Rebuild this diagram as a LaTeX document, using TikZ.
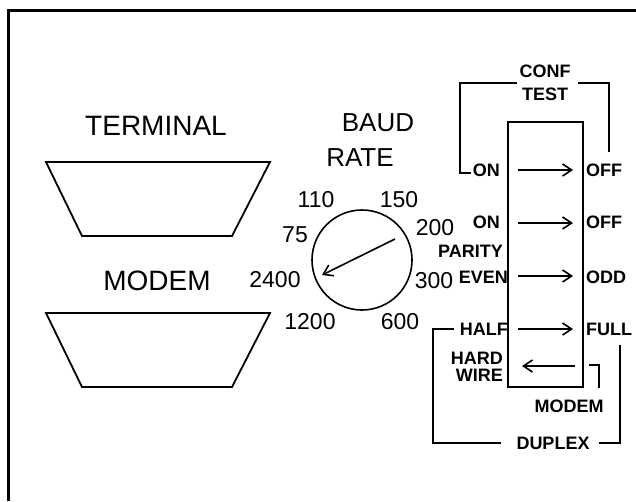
\documentclass[tikz,border=0pt]{standalone}
\usepackage{fontspec}
\setmainfont{Liberation Sans}
\usetikzlibrary{arrows.meta, positioning}
\tikzset{
  frame/.style={line width=3pt},
  sk/.style={line width=1.8pt, line join=miter},
  bracket/.style={line width=1.6pt},
  swarrow/.style={-{Straight Barb[length=9pt, width=12pt, line width=1.6pt]}, line width=1.6pt},
  big/.style={font=\fontsize{28}{30}\selectfont, inner sep=0pt},
  num/.style={font=\fontsize{23}{25}\selectfont, inner sep=0pt},
  tag/.style={font=\bfseries\fontsize{18}{19}\selectfont, inner sep=0pt},
}

\begin{document}
\begin{tikzpicture}[x=1pt, y=-1pt]
\useasboundingbox (0,0) rectangle (636,501);

% panel edge
\draw[frame] (8,501) -- (8,10) -- (636,10);

% terminal and modem slots
\foreach \Y in {0,151}{
  \draw[sk] (46,162+\Y) -- (270,162+\Y) -- (232,236+\Y) -- (82,236+\Y) -- cycle;
}
\node[big] (terminal) at (156,126) {TERMINAL};
\node[big] (modem) at (157,281) {MODEM};

% baud rate dial
\node[big, font=\fontsize{26}{28}\selectfont] (baud) at (378,123) {BAUD};
\node[big, font=\fontsize{26}{28}\selectfont] (rate) at (360,158) {RATE};
\node[draw, circle, line width=1.6pt, minimum size=100pt, inner sep=0pt] (dial) at (362,260) {};
\coordinate (ptail) at (395,239);
\coordinate (phead) at (322,275);
\draw[swarrow] (ptail) -- (phead);

\foreach \nm/\X/\Y in {110/316/200, 150/399/200, 75/295/235, 200/435/228,
                       2400/275/280, 300/434/281, 1200/310/322, 600/400/322}{
  \node[num] (b\nm) at (\X,\Y) {\nm};
}

% switch block
\node[draw, line width=1.8pt, minimum width=75pt, minimum height=265pt] (sw) at (545.5,254.5) {};
\foreach \i/\Y in {1/170, 2/223, 3/276, 4/329}{
  \coordinate (sa\i) at (518,\Y);
  \coordinate (sb\i) at (573,\Y);
  \draw[swarrow] (sa\i) -- (sb\i);
}
\coordinate (sa5) at (575,366);
\coordinate (sb5) at (522,366);
\draw[swarrow] (sa5) -- (sb5);

% left labels
\node[tag, anchor=east] (on1) at (500,170) {ON};
\node[tag, anchor=east] (on2) at (500,222) {ON};
\node[tag, anchor=east] (parity) at (503,251) {PARITY};
\node[tag, anchor=east] (even) at (508,277) {EVEN};
\node[tag, anchor=east] (half) at (508,329) {HALF};
\node[tag, anchor=east] (hard) at (503,358) {HARD};
\node[tag, anchor=east] (wire) at (503,375) {WIRE};

% right labels
\node[tag, anchor=west] (off1) at (586,170) {OFF};
\node[tag, anchor=west] (off2) at (586,222) {OFF};
\node[tag, anchor=west] (odd) at (586,277) {ODD};
\node[tag, anchor=west] (full) at (586,329) {FULL};

% conf test bracket
\node[tag] (conf) at (545,71) {CONF};
\node[tag] (test) at (545,94) {TEST};
\coordinate (ctl) at (517,83);
\coordinate (ctc) at (460,83);
\coordinate (ctr) at (578,83);
\coordinate (cte) at (609,152);
\draw[bracket] (ctl) -- (ctc) |- ([xshift=-2pt,yshift=-3pt]on1.west);
\draw[bracket] (ctr) -| (cte);

% modem mark
\node[tag] (smodem) at (569,406) {MODEM};
\coordinate (mka) at (589,365);
\coordinate (mkb) at (599,388);
\draw[bracket] (mka) -| (mkb);

% duplex bracket
\node[tag] (duplex) at (553,443) {DUPLEX};
\coordinate (dpl) at (433,329);
\coordinate (dpr) at (620,345);
\draw[bracket] ([xshift=-6pt]half.west) -- (dpl) |- ([xshift=-15pt]duplex.west);
\draw[bracket] ([xshift=9pt]duplex.east) -| (dpr);

\end{tikzpicture}
\end{document}
